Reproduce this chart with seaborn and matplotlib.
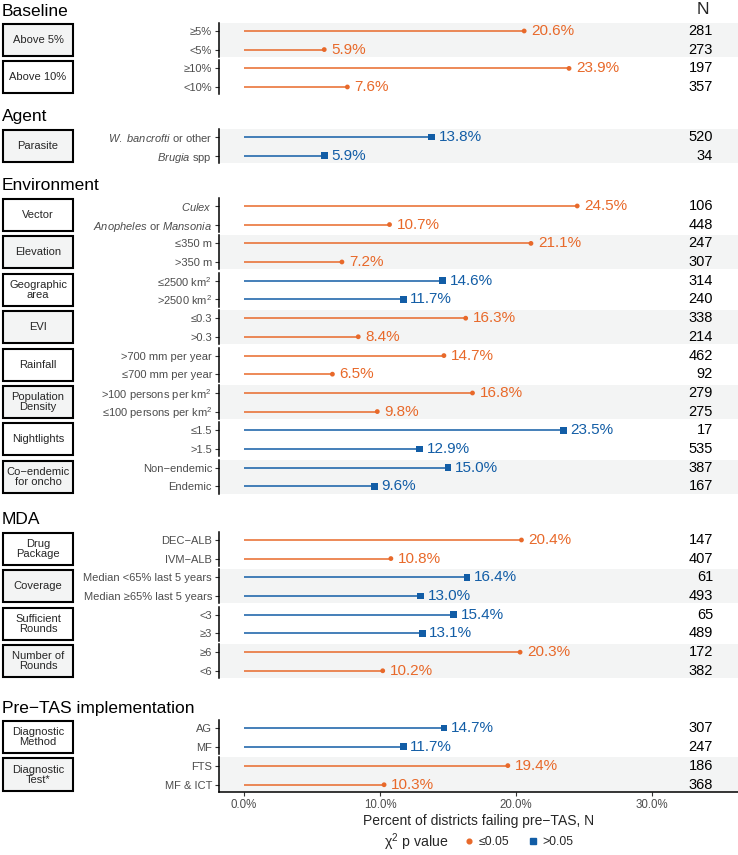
import numpy as np
import pandas as pd
import matplotlib
matplotlib.use('Agg')
import matplotlib.pyplot as plt
from matplotlib.patches import Rectangle
from matplotlib.lines import Line2D
import seaborn as sns

# ---- data ----
sections = ['Baseline', 'Agent', 'Environment', 'MDA', 'Pre\u2212TAS implementation']
section_sizes = [2, 1, 8, 4, 2]   # variables per section

variables = ['Above 5%', 'Above 10%', 'Parasite', 'Vector', 'Elevation',
             'Geographic\narea', 'EVI', 'Rainfall', 'Population\nDensity',
             'Nightlights', 'Co\u2212endemic\nfor oncho', 'Drug\nPackage',
             'Coverage', 'Sufficient\nRounds', 'Number of\nRounds',
             'Diagnostic\nMethod', 'Diagnostic\nTest*']

levels = ['\u22655%', '<5%', '\u226510%', '<10%',
          r'$\it{W.\ bancrofti}$ or other', r'$\it{Brugia}$ spp',
          r'$\it{Culex}$', r'$\it{Anopheles}$ or $\it{Mansonia}$',
          '\u2264350 m', '>350 m',
          '\u22642500 km$^2$', '>2500 km$^2$',
          '\u22640.3', '>0.3',
          '>700 mm per year', '\u2264700 mm per year',
          '>100 persons per km$^2$', '\u2264100 persons per km$^2$',
          '\u22641.5', '>1.5',
          'Non\u2212endemic', 'Endemic',
          'DEC\u2212ALB', 'IVM\u2212ALB',
          'Median <65% last 5 years', 'Median \u226565% last 5 years',
          '<3', '\u22653',
          '\u22656', '<6',
          'AG', 'MF',
          'FTS', 'MF & ICT']

pct_fail = [20.6, 5.9, 23.9, 7.6,
            13.8, 5.9,
            24.5, 10.7, 21.1, 7.2, 14.6, 11.7, 16.3, 8.4,
            14.7, 6.5, 16.8, 9.8, 23.5, 12.9, 15.0, 9.6,
            20.4, 10.8, 16.4, 13.0, 15.4, 13.1, 20.3, 10.2,
            14.7, 11.7, 19.4, 10.3]

n_districts = [281, 273, 197, 357,
               520, 34,
               106, 448, 247, 307, 314, 240, 338, 214,
               462, 92, 279, 275, 17, 535, 387, 167,
               147, 407, 61, 493, 65, 489, 172, 382,
               307, 247, 186, 368]

p_group = ['\u22640.05', '\u22640.05', '>0.05',
           '\u22640.05', '\u22640.05', '>0.05', '\u22640.05', '\u22640.05',
           '\u22640.05', '>0.05', '>0.05',
           '\u22640.05', '>0.05', '>0.05', '\u22640.05',
           '>0.05', '\u22640.05']

# ---- styling ----
sns.set_theme(style='white')
plt.rcParams['font.family'] = ['Liberation Sans', 'DejaVu Sans']
plt.rcParams['mathtext.fontset'] = 'custom'
plt.rcParams['mathtext.rm'] = 'Liberation Sans'
plt.rcParams['mathtext.it'] = 'Liberation Sans:italic'
plt.rcParams['mathtext.bf'] = 'Liberation Sans:bold'

ORANGE = '#E8692A'
BLUE = '#125DA6'
SHADE = '#F3F4F4'
GREY = '#4D4D4D'
sig_order = ['\u22640.05', '>0.05']
pal = {sig_order[0]: ORANGE, sig_order[1]: BLUE}
mk = {sig_order[0]: 'o', sig_order[1]: 's'}
sz = {sig_order[0]: 12, sig_order[1]: 24}

df = pd.DataFrame({
    'group': np.repeat(np.arange(len(variables)), 2),
    'row': np.tile([0, 1], len(variables)),
    'level': levels,
    'pct': pct_fail,
    'n': n_districts,
    'sig': np.repeat(p_group, 2),
})

# ---- layout (pixels) ----
W, H = 738, 855
fig = plt.figure(figsize=(W / 100, H / 100), dpi=100)
section_top = [23, 129, 198, 532, 720]
pitch, panel_h = 37.4, 34
ax_left = 219
px_per_pct = 13.6
x0 = -25 / px_per_pct
x1 = x0 + (W - ax_left) / px_per_pct
n_x = (713 - 244) / px_per_pct

gi = 0
n_groups = len(variables)
for s, name in enumerate(sections):
    fig.text(2 / W, 1 - (section_top[s] - 12) / H, name, fontsize=12.5,
             ha='left', va='center', color='black')
    for j in range(section_sizes[s]):
        top = section_top[s] + j * pitch
        ph = panel_h + (1 if gi == n_groups - 1 else 0)
        ax = fig.add_axes([ax_left / W, 1 - (top + ph) / H,
                           (W - ax_left) / W, ph / H])
        shaded = gi % 2 == 0
        ax.set_facecolor(SHADE if shaded else 'white')
        sub = df[df['group'] == gi]

        ax.hlines(sub['row'], 0, sub['pct'],
                  colors=[pal[v] for v in sub['sig']], lw=1.1, zorder=2)
        sns.scatterplot(data=sub, x='pct', y='row', hue='sig', style='sig',
                        size='sig', hue_order=sig_order, style_order=sig_order,
                        size_order=sig_order, palette=pal, markers=mk,
                        sizes=sz, edgecolor='none', legend=False, ax=ax,
                        zorder=3)
        for _, r in sub.iterrows():
            ax.annotate(f"{r['pct']:.1f}%", (r['pct'], r['row']),
                        xytext=(5, 0), textcoords='offset points',
                        ha='left', va='center', fontsize=11,
                        color=pal[r['sig']])
            ax.text(n_x, r['row'], str(r['n']), ha='right', va='center',
                    fontsize=10.5, color='black')

        ax.set_xlim(x0, x1)
        ax.set_ylim(1.4, -0.43)
        ax.set_yticks([0, 1])
        ax.set_yticklabels(sub['level'], fontsize=8, color=GREY)
        ax.tick_params(axis='y', left=True, length=3, width=0.8,
                       color='#333333', pad=2)
        ax.set_xlabel('')
        ax.set_ylabel('')
        for sp in ['top', 'right']:
            ax.spines[sp].set_visible(False)
        ax.spines['left'].set_color('black')
        ax.spines['left'].set_linewidth(1.1)
        if gi == n_groups - 1:
            ax.spines['bottom'].set_color('black')
            ax.spines['bottom'].set_linewidth(1.1)
            ax.set_xticks([0, 10, 20, 30])
            ax.set_xticklabels(['0.0%', '10.0%', '20.0%', '30.0%'],
                               fontsize=8.3, color=GREY)
            ax.tick_params(axis='x', bottom=True, length=3, width=0.8,
                           color='#333333', pad=2)
        else:
            ax.spines['bottom'].set_visible(False)
            ax.set_xticks([])

        # strip box on the left
        rect = Rectangle((3 / W, 1 - (top + ph - 1) / H), 70 / W,
                         (ph - 2) / H, transform=fig.transFigure,
                         facecolor=SHADE if shaded else 'white',
                         edgecolor='black', lw=1.5)
        fig.add_artist(rect)
        fig.text(38 / W, 1 - (top + ph / 2) / H, variables[gi], fontsize=8,
                 ha='center', va='center', linespacing=1.05)
        gi += 1

fig.text(703 / W, 1 - 10 / H, 'N', fontsize=12.5, ha='center', va='center')
fig.text((ax_left + W) / 2 / W, 1 - 821 / H,
         'Percent of districts failing pre\u2212TAS, N',
         fontsize=10, ha='center', va='center')

# legend
fig.text(384 / W, 1 - 842 / H, '\u03c7$^2$ p value', fontsize=10.2,
         ha='left', va='center')
handles = [Line2D([], [], ls='none', marker=mk[k], color=pal[k],
                  markersize=3.4 if k == sig_order[0] else 4.8)
           for k in sig_order]
fig.legend(handles, sig_order, loc='center left',
           bbox_to_anchor=(463 / W, 1 - 842 / H), ncol=2, frameon=False,
           fontsize=8.8, handlelength=1.0, handletextpad=0.3,
           columnspacing=1.4, borderpad=0, borderaxespad=0)

fig.savefig('out.png', dpi=100)
